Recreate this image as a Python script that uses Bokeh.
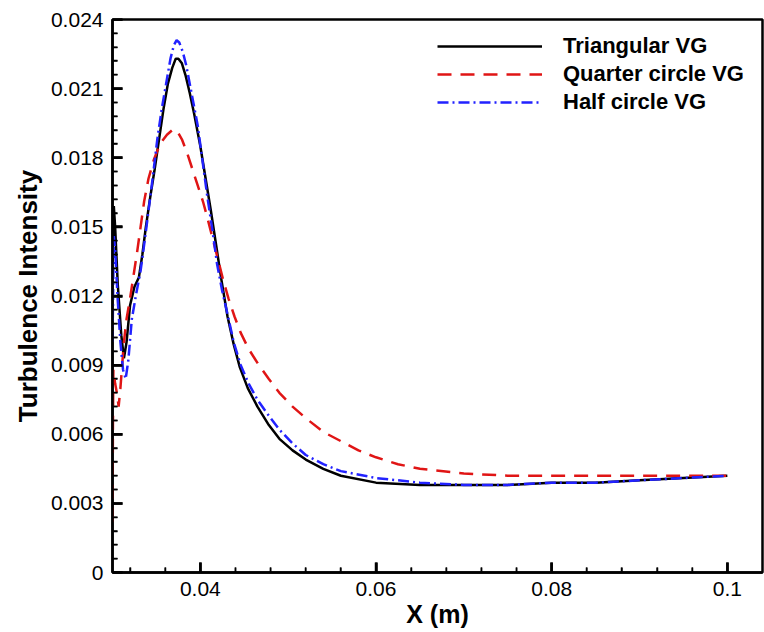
from bokeh.plotting import figure
from bokeh.models import FixedTicker, NumeralTickFormatter, Range1d, Legend, LegendItem
from bokeh.embed import file_html
from bokeh.resources import INLINE

# ---- data ----
tri_x = [0.0300, 0.03015, 0.0303, 0.0306, 0.0310, 0.0313, 0.0316, 0.0320, 0.0325, 0.0330,
         0.0334, 0.0338, 0.0343, 0.0348, 0.0353, 0.0358, 0.0363, 0.0368, 0.0372, 0.0375,
         0.0379, 0.0383, 0.0388, 0.0393, 0.0400, 0.0406, 0.0412, 0.0418, 0.0424, 0.0431,
         0.0438, 0.0445, 0.0454, 0.0465, 0.0478, 0.0490, 0.0505, 0.0520, 0.0540, 0.0560,
         0.0600, 0.0650, 0.0700, 0.0750, 0.0800, 0.0850, 0.0900, 0.0950, 0.1000]
tri_y = [0.0135, 0.0159, 0.0150, 0.0125, 0.0103, 0.0093, 0.0100, 0.0116, 0.0124, 0.0128,
         0.0138, 0.0150, 0.0163, 0.0175, 0.0188, 0.0201, 0.0212, 0.0219, 0.0223, 0.0223,
         0.0221, 0.0216, 0.0208, 0.0199, 0.0185, 0.0171, 0.0157, 0.0142, 0.0127, 0.0111,
         0.0099, 0.0089, 0.0080, 0.0072, 0.0064, 0.0058, 0.0053, 0.0049, 0.0045, 0.0042,
         0.0039, 0.0038, 0.0038, 0.0038, 0.0039, 0.0039, 0.0040, 0.0041, 0.0042]

qua_x = [0.0300, 0.03005, 0.0301, 0.0303, 0.0305, 0.0307, 0.0309, 0.0311, 0.0313, 0.0316,
         0.0320, 0.0324, 0.0328, 0.0332, 0.0336, 0.0341, 0.0347, 0.0354, 0.0362, 0.0368,
         0.0373, 0.0379, 0.0385, 0.0391, 0.0397, 0.0403, 0.0408, 0.0414, 0.0420, 0.0426,
         0.0432, 0.0439, 0.0446, 0.0455, 0.0465, 0.0478, 0.0490, 0.0505, 0.0520, 0.0540,
         0.0560, 0.0580, 0.0600, 0.0625, 0.0650, 0.0700, 0.0750, 0.0800, 0.0900, 0.1000]
qua_y = [0.0022, 0.0065, 0.0088, 0.0082, 0.0078, 0.0072, 0.0080, 0.0090, 0.0100, 0.0110,
         0.0119, 0.0129, 0.0139, 0.0150, 0.0161, 0.0171, 0.0179, 0.0186, 0.0190, 0.0192,
         0.0192, 0.0188, 0.0182, 0.0175, 0.0168, 0.0161, 0.0154, 0.0145, 0.0136, 0.0127,
         0.0119, 0.0111, 0.0104, 0.0097, 0.0091, 0.0084, 0.0078, 0.0072, 0.0067, 0.0061,
         0.0057, 0.0053, 0.0050, 0.0047, 0.0045, 0.0043, 0.0042, 0.0042, 0.0042, 0.0042]

hal_x = [0.0300, 0.03015, 0.0303, 0.0306, 0.0309, 0.0312, 0.0315, 0.0318, 0.0322, 0.0327,
         0.0332, 0.0337, 0.0341, 0.0346, 0.0351, 0.0356, 0.0361, 0.0366, 0.0370, 0.0373,
         0.0376, 0.0380, 0.0384, 0.0390, 0.0397, 0.0402, 0.0408, 0.0414, 0.0419, 0.0425,
         0.0431, 0.0438, 0.0446, 0.0455, 0.0465, 0.0478, 0.0490, 0.0505, 0.0520, 0.0540,
         0.0560, 0.0600, 0.0650, 0.0700, 0.0750, 0.0800, 0.0850, 0.0900, 0.0950, 0.1000]
hal_y = [0.0100, 0.0146, 0.0140, 0.0118, 0.0100, 0.0088, 0.0084, 0.0092, 0.0110, 0.0121,
         0.0131, 0.0145, 0.0157, 0.0172, 0.0188, 0.0201, 0.0212, 0.0223, 0.0229, 0.0231,
         0.0230, 0.0226, 0.0220, 0.0208, 0.0194, 0.0180, 0.0163, 0.0148, 0.0134, 0.0122,
         0.0112, 0.0100, 0.0090, 0.0082, 0.0075, 0.0068, 0.0062, 0.0056, 0.0051, 0.0047,
         0.0044, 0.0041, 0.0039, 0.0038, 0.0038, 0.0039, 0.0039, 0.0040, 0.0041, 0.0042]

series_names = ["Triangular VG", "Quarter circle VG", "Half circle VG"]

x_major = [0.04, 0.06, 0.08, 0.1]
x_minor = [0.032, 0.036, 0.044, 0.048, 0.052, 0.056, 0.064, 0.068, 0.072, 0.076,
           0.084, 0.088, 0.092, 0.096]
y_major = [0, 0.003, 0.006, 0.009, 0.012, 0.015, 0.018, 0.021, 0.024]
y_minor = [round(i * 0.0006, 4) for i in range(41) if i % 5 != 0]

X0, X1 = 0.03, 0.104
Y0, Y1 = 0.0, 0.024
FONT = "Liberation Sans"
W, H = 764, 630
BL, BR, BT, BB = 112, 2, 19, 53

p = figure(width=W, height=H, output_backend="svg", toolbar_location=None,
           x_range=Range1d(X0, X1), y_range=Range1d(Y0, Y1),
           min_border_left=BL, min_border_right=BR, min_border_top=BT, min_border_bottom=BB)
p.background_fill_color = "white"
p.border_fill_color = "white"
p.grid.visible = False
p.outline_line_color = "black"
p.outline_line_width = 2.5

# inward ticks (drawn as segments, lengths in pixels converted to data units)
fw = W - BL - BR
fh = H - BT - BB
dx = (X1 - X0) / fw
dy = (Y1 - Y0) / fh
p.segment(x0=x_major, y0=[Y0] * len(x_major), x1=x_major, y1=[Y0 + 10 * dy] * len(x_major),
          line_color="black", line_width=2.5)
p.segment(x0=x_minor, y0=[Y0] * len(x_minor), x1=x_minor, y1=[Y0 + 5 * dy] * len(x_minor),
          line_color="black", line_width=1.5)
p.segment(x0=[X0] * len(y_major), y0=y_major, x1=[X0 + 10 * dx] * len(y_major), y1=y_major,
          line_color="black", line_width=2.5)
p.segment(x0=[X0] * len(y_minor), y0=y_minor, x1=[X0 + 5 * dx] * len(y_minor), y1=y_minor,
          line_color="black", line_width=1.5)

r1 = p.line(tri_x, tri_y, line_color="black", line_width=2.5)
r2 = p.line(qua_x, qua_y, line_color="#e01515", line_width=2.5, line_dash="14 9")
r3 = p.line(hal_x, hal_y, line_color="#2222ff", line_width=2.5, line_dash="11 4 2 4")

for ax in (p.xaxis[0], p.yaxis[0]):
    ax.axis_line_width = 2.5
    ax.axis_line_color = "black"
    ax.major_tick_in = 10
    ax.major_tick_out = 0
    ax.minor_tick_in = 5
    ax.minor_tick_out = 0
    ax.major_tick_line_width = 2.5
    ax.minor_tick_line_width = 1.5
    ax.major_tick_line_color = "black"
    ax.minor_tick_line_color = "black"
    ax.major_label_text_font = FONT
    ax.major_label_text_font_size = "21px"
    ax.major_label_text_color = "black"
    ax.axis_label_text_font = FONT
    ax.axis_label_text_font_style = "bold"
    ax.axis_label_text_color = "black"
    ax.major_label_standoff = 9
    ax.formatter = NumeralTickFormatter(format="0.[000]")

p.xaxis[0].ticker = FixedTicker(ticks=x_major, minor_ticks=x_minor)
p.yaxis[0].ticker = FixedTicker(ticks=y_major, minor_ticks=y_minor)
p.xaxis[0].axis_label = "X (m)"
p.yaxis[0].axis_label = "Turbulence Intensity"
p.xaxis[0].axis_label_text_font_size = "25px"
p.yaxis[0].axis_label_text_font_size = "26px"
p.xaxis[0].axis_label_standoff = 1
p.yaxis[0].axis_label_standoff = 5

legend = Legend(items=[LegendItem(label=series_names[0], renderers=[r1]),
                       LegendItem(label=series_names[1], renderers=[r2]),
                       LegendItem(label=series_names[2], renderers=[r3])],
                location=(325, 457), orientation="vertical")
legend.border_line_alpha = 0
legend.background_fill_alpha = 0
legend.padding = 0
legend.margin = 0
legend.spacing = 2
legend.glyph_width = 105
legend.glyph_height = 24
legend.label_height = 24
legend.label_standoff = 21
legend.label_text_font = FONT
legend.label_text_font_style = "bold"
legend.label_text_font_size = "22px"
legend.label_text_color = "black"
p.add_layout(legend, "center")

open("out.html", "w").write(file_html(p, INLINE))
